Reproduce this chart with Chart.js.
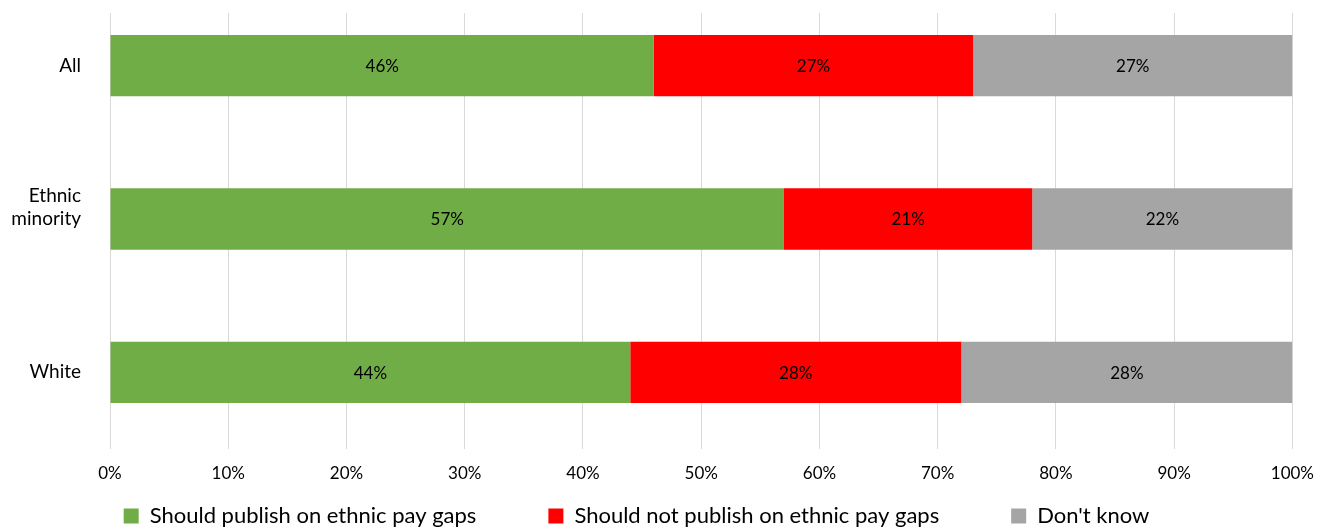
<!DOCTYPE html>
<html><head><meta charset="utf-8">
<script src="https://cdn.jsdelivr.net/npm/chart.js@4/dist/chart.umd.min.js"></script>
<style>
html,body{margin:0;padding:0;background:#fff;overflow:hidden;width:1328px;height:528px;}
#wrap{position:absolute;left:0;top:-30px;width:1328px;height:558px;}
</style></head><body>
<div id="wrap"><canvas id="c" width="1328" height="558"></canvas></div>
<script>
const categories = ['All', ['Ethnic', 'minority', ''], 'White'];
const seriesNames = ['Should publish on ethnic pay gaps', 'Should not publish on ethnic pay gaps', "Don't know"];
const publishValues = [46, 57, 44];
const notPublishValues = [27, 21, 28];
const dontKnowValues = [27, 22, 28];
const xTickLabels = ['0%', '10%', '20%', '30%', '40%', '50%', '60%', '70%', '80%', '90%', '100%'];
const seriesColors = ['#70AD47', '#FF0000', '#A5A5A5'];

const barLabels = {
  id: 'barLabels',
  afterDatasetsDraw(chart) {
    const ctx = chart.ctx;
    ctx.save();
    ctx.font = '17px Lato';
    ctx.fillStyle = '#000';
    ctx.textAlign = 'center';
    ctx.textBaseline = 'middle';
    chart.data.datasets.forEach((ds, i) => {
      const meta = chart.getDatasetMeta(i);
      meta.data.forEach((el, j) => {
        const p = el.getProps(['x', 'y', 'base'], true);
        ctx.fillText(ds.data[j] + '%', (p.x + p.base) / 2, p.y + 1);
      });
    });
    ctx.restore();
  }
};

const gridTopMask = {
  id: 'gridTopMask',
  beforeDatasetsDraw(chart) {
    const { ctx, chartArea: a } = chart;
    ctx.save();
    ctx.fillStyle = '#fff';
    ctx.fillRect(a.left - 2, a.top - 1, a.right - a.left + 4, 25);
    ctx.restore();
  }
};

const legendPlace = {
  id: 'legendPlace',
  afterLayout(chart) {
    const lg = chart.legend;
    const pad = lg.options.labels.padding;
    lg.top = chart.height - 23 - pad;
    lg.left -= 10;
    lg.right -= 10;
  }
};

function build() {
  Chart.defaults.font.family = 'Lato';
  Chart.defaults.color = '#000';
  new Chart(document.getElementById('c'), {
    type: 'bar',
    data: {
      labels: categories,
      datasets: [
        { label: seriesNames[0], data: publishValues, backgroundColor: seriesColors[0] },
        { label: seriesNames[1], data: notPublishValues, backgroundColor: seriesColors[1] },
        { label: seriesNames[2], data: dontKnowValues, backgroundColor: seriesColors[2] }
      ].map(d => Object.assign(d, { barPercentage: 0.4, categoryPercentage: 1.0, borderWidth: 0 }))
    },
    options: {
      indexAxis: 'y',
      responsive: false,
      animation: false,
      layout: { padding: { top: 19, right: 35, left: 0, bottom: 0 } },
      scales: {
        x: {
          type: 'linear', stacked: true, min: 0, max: 100, position: 'bottom',
          grid: { color: '#D9D9D9', lineWidth: 1, drawTicks: false },
          border: { display: false },
          ticks: { stepSize: 10, padding: 14, font: { size: 17 }, color: '#000',
                   callback: (v, i) => xTickLabels[i] },
          afterFit(s) { s.height = 39; }
        },
        y: {
          type: 'category', stacked: true, offset: true,
          grid: { display: false },
          border: { display: false },
          ticks: { padding: 21, font: { size: 19 }, color: '#000' },
          afterFit(s) { s.width = 110; s.paddingTop = 0; s.paddingBottom = 0; }
        }
      },
      plugins: {
        legend: {
          position: 'bottom', maxHeight: 40,
          labels: { boxWidth: 15, boxHeight: 15, padding: 72, font: { size: 22 }, color: '#000' }
        },
        tooltip: { enabled: false }
      }
    },
    plugins: [gridTopMask, barLabels, legendPlace]
  });
}
if (document.fonts && document.fonts.load) {
  Promise.all([document.fonts.load('17px Lato'), document.fonts.load('22px Lato')]).then(build, build);
} else { build(); }
</script>
</body></html>
